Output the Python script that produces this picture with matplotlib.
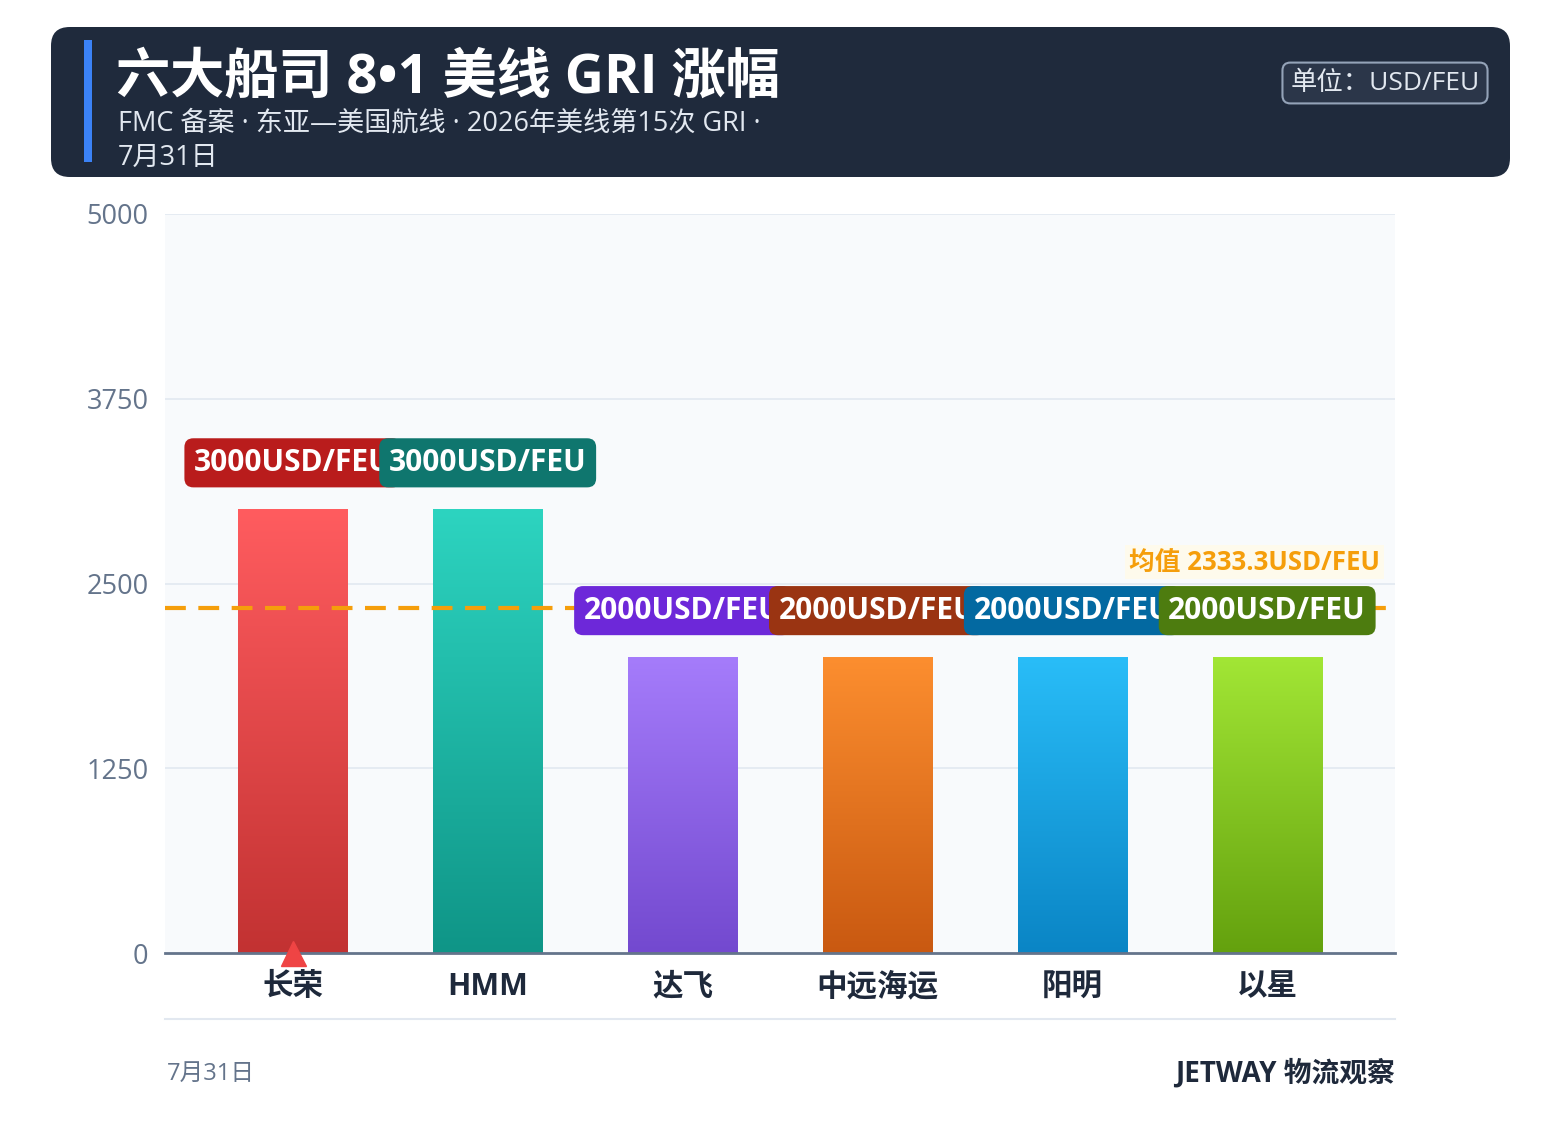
import numpy as np
import matplotlib
matplotlib.use('Agg')
import matplotlib.pyplot as plt
from matplotlib.patches import FancyBboxPatch, Rectangle
from matplotlib.colors import LinearSegmentedColormap

plt.rcParams['font.family'] = ['Open Sans', 'Noto Sans CJK SC', 'DejaVu Sans']

carriers = ['长荣', 'HMM', '达飞', '中远海运', '阳明', '以星']
gri = [3000, 3000, 2000, 2000, 2000, 2000]
labels = ['3000USD/FEU', '3000USD/FEU', '2000USD/FEU', '2000USD/FEU', '2000USD/FEU', '2000USD/FEU']
top_colors = ['#ff5c5f', '#2dd4c0', '#a57cfb', '#fc8e2f', '#29bdf8', '#a2e635']
bot_colors = ['#c23232', '#0f9587', '#7349cf', '#c95911', '#0a85c5', '#64a10e']
tag_colors = ['#b91c1c', '#0f766e', '#6d28d9', '#9a3412', '#0369a1', '#4d7c0f']
yticks = [0, 1250, 2500, 3750, 5000]
mean_val = np.mean(gri)

W, H = 1561, 1145
fig = plt.figure(figsize=(W / 100, H / 100), dpi=100)
fig.patch.set_facecolor('white')

def fx(px):
    return px / W

def fy(py):
    return 1 - py / H

# header
hdr = FancyBboxPatch((fx(51), fy(177)), fx(1510) - fx(51), fy(27) - fy(177),
                     boxstyle='round,pad=0,rounding_size=0.012', transform=fig.transFigure,
                     facecolor='#1f2a3c', edgecolor='none', mutation_aspect=W / H)
fig.patches.append(hdr)
fig.patches.append(Rectangle((fx(84), fy(162)), fx(8), fy(40) - fy(162), transform=fig.transFigure,
                             facecolor='#3b82f6', edgecolor='none'))
fig.text(fx(116), fy(78), '六大船司 8•1 美线 GRI 涨幅', fontsize=39, fontweight='bold',
         color='white', va='center', ha='left')
fig.text(fx(118), fy(124), 'FMC 备案 · 东亚—美国航线 · 2026年美线第15次 GRI ·', fontsize=19.5,
         color='#e2e8f0', va='center', ha='left')
fig.text(fx(118), fy(158), '7月31日', fontsize=19.5, color='#e2e8f0', va='center', ha='left')
fig.text(fx(1385), fy(83), '单位：USD/FEU', fontsize=19, color='#e2e8f0', va='center', ha='center',
         bbox=dict(boxstyle='round,pad=0.3,rounding_size=0.3', facecolor='#2b3649',
                   edgecolor='#94a3b8', linewidth=1.5))

# plot area
ax = fig.add_axes([fx(165), fy(953), fx(1395) - fx(165), fy(214) - fy(953)])
ax.set_facecolor('#f8fafc')
ax.set_yticks(yticks)
ax.set_yticklabels([str(v) for v in yticks])
ax.tick_params(axis='y', length=0, labelsize=19.5, labelcolor='#64748b', pad=12)
ax.tick_params(axis='x', length=0, labelsize=22, labelcolor='#1e293b', pad=14)
ax.set_xticks(range(len(carriers)))
ax.set_xticklabels(carriers, fontweight='bold')
for v in yticks[1:]:
    ax.axhline(v, color='#e2e8f0', linewidth=1.2, zorder=1)
for s in ['top', 'right', 'left']:
    ax.spines[s].set_visible(False)
ax.spines['bottom'].set_color('#64748b')
ax.spines['bottom'].set_linewidth(2)

bw = 0.56
for i, v in enumerate(gri):
    cmap = LinearSegmentedColormap.from_list('g', [bot_colors[i], top_colors[i]])
    grad = np.linspace(0, 1, 256).reshape(-1, 1)
    ax.imshow(grad, cmap=cmap, origin='lower', aspect='auto',
              extent=(i - bw / 2, i + bw / 2, 0, v), zorder=2)
    ax.text(i, v + 215, labels[i], ha='center', va='bottom', fontsize=21.5, fontweight='bold',
            color='white', zorder=5 + i,
            bbox=dict(boxstyle='round,pad=0.32,rounding_size=0.3', facecolor=tag_colors[i],
                      edgecolor='none'))

ax.axhline(mean_val, color='#f59e0b', linewidth=3, linestyle=(0, (5, 3)), zorder=3)
ax.text(5.58, mean_val + 220, f'均值 {mean_val:.1f}USD/FEU', ha='right', va='bottom',
        fontsize=18.5, fontweight='bold', color='#f59e0b', zorder=12,
        bbox=dict(boxstyle='square,pad=0.15', facecolor='#fffbeb', edgecolor='none', alpha=0.9))
ax.plot(0, 0, marker='^', markersize=18, color='#ef4444', clip_on=False, zorder=6)
ax.set_xlim(-0.656, 5.656)
ax.set_ylim(0, 5000)

# footer
fig.lines.append(plt.Line2D([fx(165), fx(1395)], [fy(1019), fy(1019)], transform=fig.transFigure,
                            color='#e2e8f0', linewidth=1.5))
fig.text(fx(167), fy(1074), '7月31日', fontsize=17, color='#64748b', va='center', ha='left')
fig.text(fx(1395), fy(1074), 'JETWAY 物流观察', fontsize=20, fontweight='bold', color='#1e293b',
         va='center', ha='right')

fig.savefig('out.png', dpi=100)
